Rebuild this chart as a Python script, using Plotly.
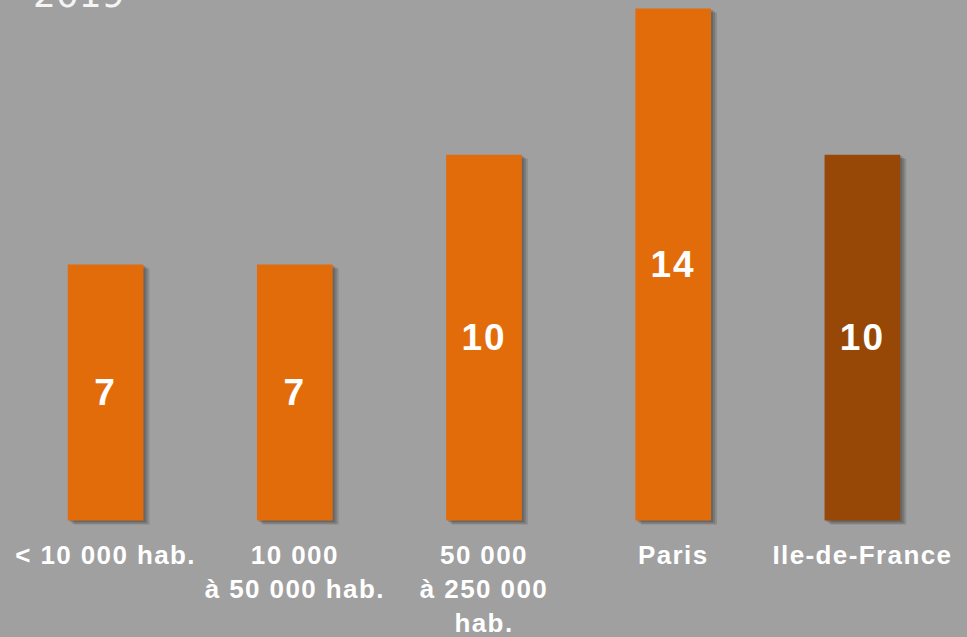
import plotly.graph_objects as go

# ---- data ----
categories = ["< 10 000 hab.", "10 000 à 50 000 hab.", "50 000 à 250 000 hab.", "Paris", "Ile-de-France"]
tick_labels = ["< 10 000 hab.", "10 000<br>à 50 000 hab.", "50 000<br>à 250 000<br>hab.", "Paris", "Ile-de-France"]
values = [7, 7, 10, 14, 10]
bar_colors = ["#E36C0A", "#E36C0A", "#E36C0A", "#E36C0A", "#974806"]
title_text = "2019"

W, H = 967, 637
m_l, m_r, m_t, m_b = 11, 10, 0, 111
y_range = [-0.15, 14.23]
bar_w = 0.4

plot_w = W - m_l - m_r
plot_h = H - m_t - m_b
px_per_cat = plot_w / len(categories)
px_per_unit = plot_h / (y_range[1] - y_range[0])

fig = go.Figure()

# soft drop shadows (layered)
for dx, dy, alpha in [(6, 4, 0.18), (4, 3, 0.22), (2, 1.5, 0.25)]:
    fig.add_trace(go.Bar(
        x=categories, y=values,
        base=-dy / px_per_unit,
        width=bar_w,
        offset=-bar_w / 2 + dx / px_per_cat,
        marker=dict(color=f"rgba(50,50,50,{alpha})", line=dict(width=0)),
        hoverinfo="skip", showlegend=False,
    ))

fig.add_trace(go.Bar(
    x=categories, y=values,
    width=bar_w,
    offset=-bar_w / 2,
    marker=dict(color=bar_colors, line=dict(width=0)),
    text=[str(v) for v in values],
    textposition="inside",
    insidetextanchor="middle",
    textangle=0,
    constraintext="none",
    textfont=dict(family="Liberation Sans", size=37, color="white", weight="bold"),
    showlegend=False,
))

fig.update_layout(
    width=W, height=H,
    margin=dict(l=m_l, r=m_r, t=m_t, b=m_b, pad=0),
    paper_bgcolor="#A0A0A0",
    plot_bgcolor="#A0A0A0",
    barmode="overlay",
    showlegend=False,
    xaxis=dict(
        type="category",
        tickmode="array",
        tickvals=categories,
        ticktext=tick_labels,
        automargin=False,
        showgrid=False, zeroline=False, showline=False,
        ticks="outside", ticklen=6, tickcolor="rgba(0,0,0,0)",
        tickfont=dict(family="Liberation Sans", size=26, color="white", weight="bold"),
        tickangle=0,
    ),
    yaxis=dict(
        range=y_range,
        automargin=False,
        showgrid=False, zeroline=False, showline=False,
        showticklabels=False, ticks="",
    ),
    annotations=[dict(
        text=title_text,
        xref="paper", yref="paper",
        x=0, y=1, xanchor="left", yanchor="bottom",
        xshift=20, yshift=-17,
        showarrow=False,
        font=dict(family="DejaVu Sans", size=36, color="#F4F4F4"),
    )],
)

post_js = (
    "document.body.style.margin='0';document.body.style.padding='0';"
    "document.querySelectorAll('.xtick text').forEach(function(t){t.setAttribute('letter-spacing','1.4px');});"
    "document.querySelectorAll('.bartext').forEach(function(t){t.setAttribute('letter-spacing','2px');});"
)

fig.write_html(
    "out.html",
    config={"displayModeBar": False},
    post_script=post_js,
)
